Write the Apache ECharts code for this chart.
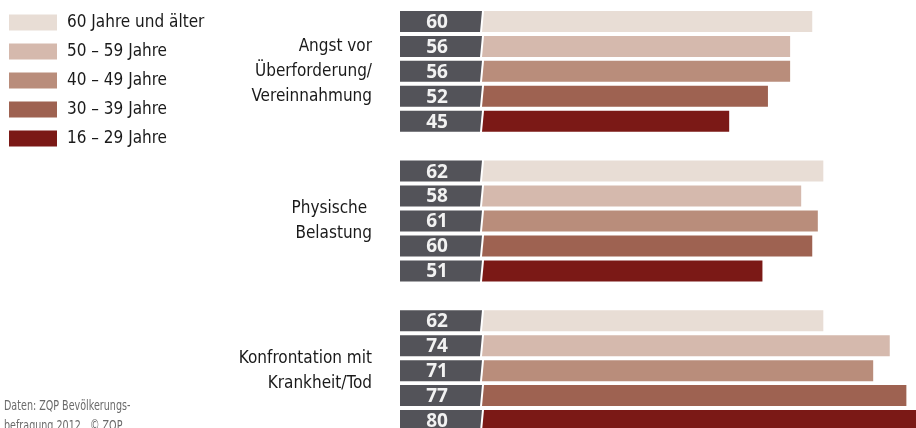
<!DOCTYPE html>
<html lang="de">
<head>
    <meta charset="UTF-8">
    <title>Belastungen nach Alter</title>
    <script src="https://cdn.jsdelivr.net/npm/echarts@6/dist/echarts.min.js"></script>
    <style>
        html, body { margin: 0; padding: 0; background: #fff; }
    </style>
</head>
<body>
<div id="chart" style="width: 916px;height:428px;"></div>
<script type="text/javascript">
    // Altersgruppen (Legende, von hell nach dunkel)
    var ageGroups = ['60 Jahre und älter', '50 – 59 Jahre', '40 – 49 Jahre', '30 – 39 Jahre', '16 – 29 Jahre'];
    var ageColors = ['#E8DDD5', '#D5B9AD', '#B98D7B', '#9E6251', '#7B1916'];
    var categories = ['Angst vor\nÜberforderung/\nVereinnahmung', 'Physische \nBelastung', 'Konfrontation mit\nKrankheit/Tod'];
    // Werte je Altersgruppe, in der Reihenfolge der categories
    var v60plus = [60, 62, 62];
    var v50_59 = [56, 58, 74];
    var v40_49 = [56, 61, 71];
    var v30_39 = [52, 60, 77];
    var v16_29 = [45, 51, 80];
    var values = [v60plus, v50_59, v40_49, v30_39, v16_29];

    var narrow = '"Liberation Sans Narrow", "DejaVu Sans Condensed", sans-serif';

    // 5 Balken je Gruppe + 1 Leerplatz
    var slotCount = categories.length * 6 - 1;
    var slots = [];
    for (var i = 0; i < slotCount; i++) slots.push('');
    categories.forEach(function (c, g) { slots[g * 6 + 2] = c; });

    function renderBar(params, api) {
        var v = api.value(0), slot = api.value(1);
        var p0 = api.coord([0, slot]);
        var p1 = api.coord([v, slot]);
        var h = 21;
        var top = p0[1] - h / 2, bot = top + h, x0 = p0[0];
        return {
            type: 'group',
            children: [
                {
                    type: 'polygon',
                    shape: {points: [[x0 - 80, top], [x0 + 2, top], [x0, bot], [x0 - 80, bot]]},
                    style: {fill: '#535359'}
                },
                {
                    type: 'text',
                    style: {
                        text: String(v), x: x0 - 43, y: p0[1] + 1,
                        align: 'center', verticalAlign: 'middle',
                        fill: '#f2f2f2', fontSize: 19, fontWeight: 'bold', fontFamily: '"Open Sans", sans-serif'
                    }
                },
                {
                    type: 'polygon',
                    shape: {points: [[x0 + 4, top], [p1[0], top], [p1[0], bot], [x0 + 2, bot]]},
                    style: {fill: api.visual('color')}
                }
            ]
        };
    }

    var series = ageGroups.map(function (name, k) {
        return {
            name: name,
            type: 'custom',
            renderItem: renderBar,
            clip: false,
            itemStyle: {color: ageColors[k]},
            encode: {x: 0, y: 1},
            data: categories.map(function (c, g) { return [values[k][g], g * 6 + k]; })
        };
    });

    var myChart = echarts.init(document.getElementById('chart'));
    var option = {
        animation: false,
        color: ageColors,
        legend: {
            data: ageGroups,
            orient: 'vertical',
            left: 4,
            top: 9,
            icon: 'rect',
            itemWidth: 48,
            itemHeight: 16,
            itemGap: 12,
            selectedMode: false,
            textStyle: {fontSize: 17, fontFamily: narrow, color: '#1a1a1a', padding: [0, 0, 0, 5]}
        },
        grid: {left: 480, width: 443, top: 9, height: 424, outerBoundsMode: 'none'},
        xAxis: {
            type: 'value', min: 0, max: 80, show: false
        },
        yAxis: {
            type: 'category',
            inverse: true,
            data: slots,
            axisLine: {show: false},
            axisTick: {show: false},
            splitLine: {show: false},
            axisLabel: {
                interval: 0, margin: 108, fontSize: 17, lineHeight: 25,
                fontFamily: narrow, color: '#1a1a1a', align: 'right'
            }
        },
        graphic: [{
            type: 'text', left: 4, top: 396, scaleX: 0.76,
            style: {
                text: 'Daten: ZQP Bevölkerungs-\nbefragung 2012   © ZQP',
                fontSize: 14, lineHeight: 20, fontFamily: narrow, fill: '#6a6a6a'
            }
        }],
        series: series
    };
    myChart.setOption(option);
</script>
</body>
</html>
